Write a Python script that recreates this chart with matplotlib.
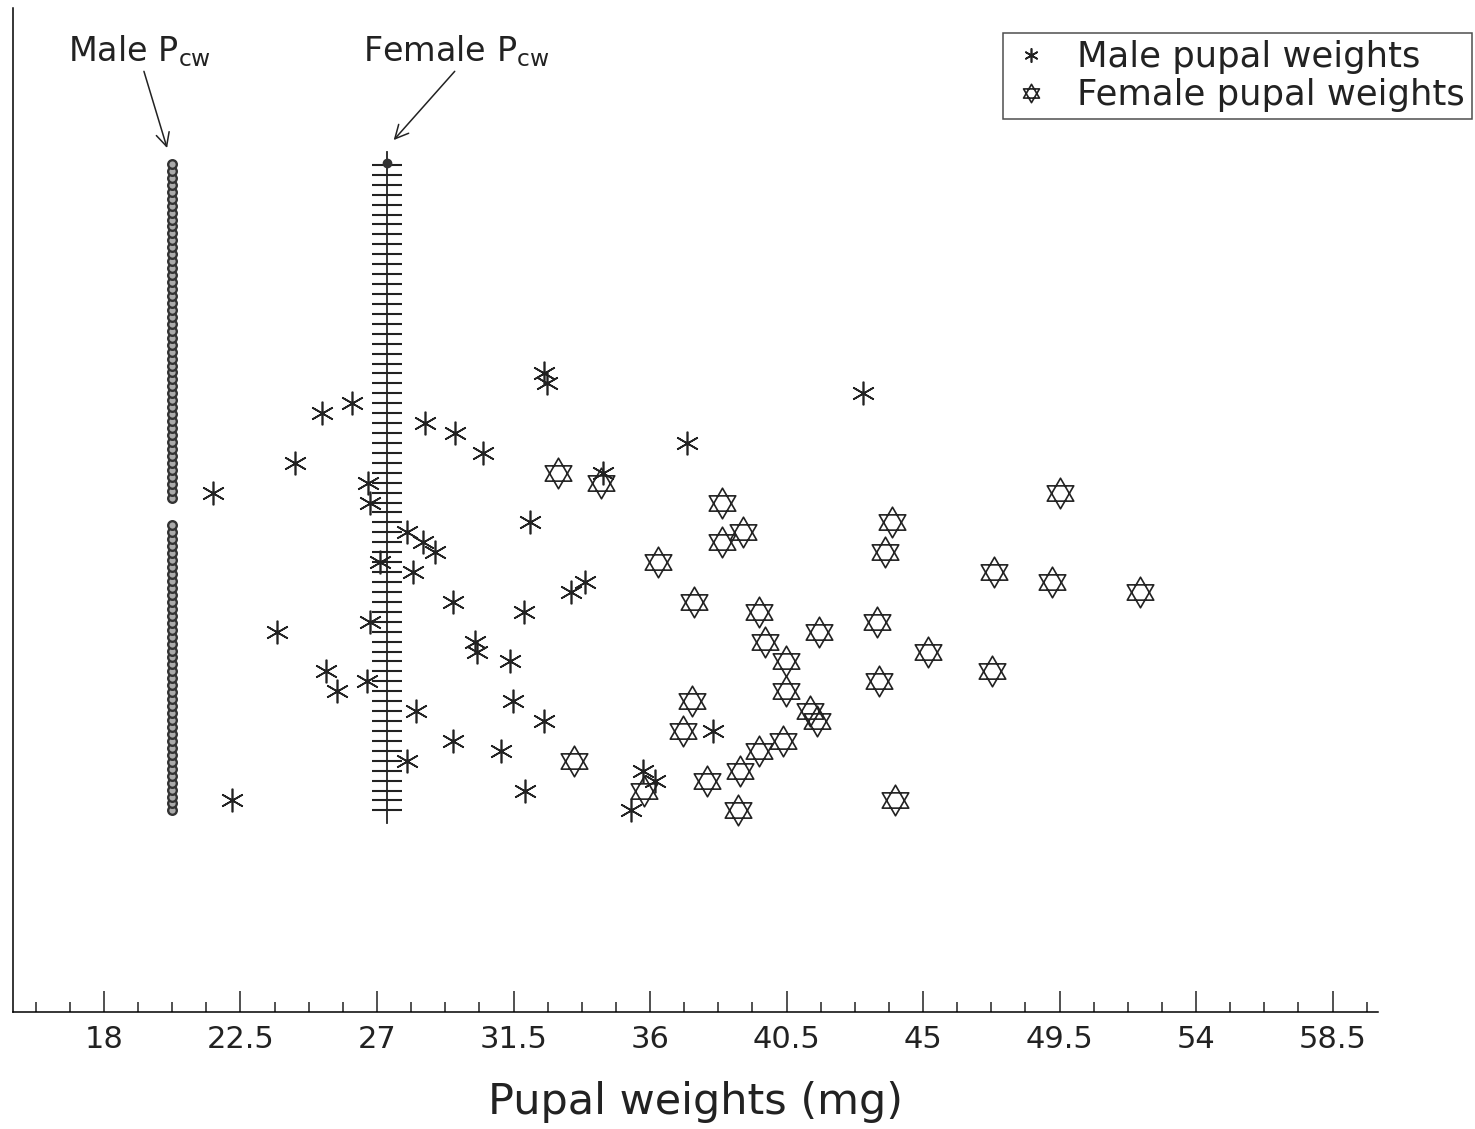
import numpy as np
import matplotlib
matplotlib.use("Agg")
import matplotlib.pyplot as plt
from matplotlib.path import Path
from matplotlib.ticker import MultipleLocator

# pupal weights (mg) by rank row, NaN where a row has no value
male_weights = [35.36, 22.22, 31.89, 36.15, 35.76, 28.00, 31.10, 29.52, 38.07, 32.49,
                28.30, 31.47, 25.69, 26.68, 25.33, 31.40, 30.31, 30.24, 23.71, 26.78,
                31.86, 29.52, 33.38, 33.87, 28.20, 27.11, 28.92, 28.50, 28.00, 32.06,
                np.nan, 26.78, 21.60, 26.71, 34.44, 24.30, 30.48, 37.21, 29.58, 28.59,
                25.19, 26.18, 43.02, 32.59, 32.49]
female_weights = [38.89, 44.07, 35.79, 37.87, 38.96, 33.48, 39.58, 40.38, 37.08, 41.50,
                  41.27, 37.37, 40.48, 43.54, 47.27, 40.48, 45.16, 39.78, 41.56, 43.48,
                  39.58, 37.44, 52.16, 49.25, 47.34, 36.25, 43.74, 38.36, 39.06, 43.97,
                  np.nan, 38.36, 49.52, 34.37, 32.98]

male_pcw = 20.25
female_pcw = 27.33

tick_values = [18, 22.5, 27, 31.5, 36, 40.5, 45, 49.5, 54, 58.5]
tick_labels = ["18", "22.5", "27", "31.5", "36", "40.5", "45", "49.5", "54", "58.5"]

male_rows = np.arange(len(male_weights))
female_rows = np.arange(len(female_weights))

# rows covered by the Pcw columns
male_col_rows = np.arange(0, 65.2, 0.7)
male_col_rows = male_col_rows[(male_col_rows < 29.3) | (male_col_rows > 30.8)]
female_col_rows = np.arange(0, 66)

ink = "#222222"

# star of david marker: two triangles
ang_up = np.deg2rad([90, 210, 330, 90])
ang_dn = np.deg2rad([270, 30, 150, 270])
verts = list(zip(np.cos(ang_up), np.sin(ang_up))) + list(zip(np.cos(ang_dn), np.sin(ang_dn)))
codes = [Path.MOVETO, Path.LINETO, Path.LINETO, Path.CLOSEPOLY] * 2
star_path = Path(verts, codes)

fig = plt.figure(figsize=(14.75, 11.29), dpi=100)
ax = fig.add_axes([13/1475, 1 - 1012/1129, (1378 - 13)/1475, (1012 - 8)/1129])

# Pcw columns
ax.plot([female_pcw, female_pcw], [-1.3, 66.3], color=ink, lw=1.3, zorder=2)
ax.plot(np.full(len(female_col_rows), female_pcw), female_col_rows, ls="none",
        marker="_", ms=21, mew=1.5, color=ink, zorder=2)
ax.plot([female_pcw], [65.2], ls="none", marker="o", ms=6, color="#333333", zorder=3)
ax.plot(np.full(len(male_col_rows), male_pcw), male_col_rows, ls="none",
        marker="o", ms=6.2, mfc="#aaaaaa", mec="#333333", mew=1.7, zorder=2)

# pupal weights
ax.plot(male_weights, male_rows, ls="none", marker=(6, 2, 0), ms=17, mew=1.2,
        color=ink, label="Male pupal weights", zorder=4)
ax.plot(female_weights, female_rows, ls="none", marker=star_path, ms=22, mew=1.2,
        mfc="none", mec=ink, label="Female pupal weights", zorder=4)

ax.set_xlim(15, 60)
ax.set_ylim(-20.3, 80.8)

ax.spines["top"].set_visible(False)
ax.spines["right"].set_visible(False)
ax.spines["left"].set_linewidth(1.1)
ax.spines["bottom"].set_linewidth(1.1)
ax.set_yticks([])
ax.set_xticks(tick_values)
ax.set_xticklabels(tick_labels)
ax.xaxis.set_minor_locator(MultipleLocator(1.125))
ax.tick_params(axis="x", which="major", direction="in", length=15, width=1.1,
               labelsize=22, pad=9, colors=ink)
ax.tick_params(axis="x", which="minor", direction="in", length=7, width=1.1, colors=ink)

ax.set_xlabel("Pupal weights (mg)", fontsize=31, color=ink, labelpad=20)

# annotations for the Pcw columns
ax.annotate("Male P$_{\\mathregular{cw}}$", xy=(20.08, 66.7), xytext=(16.8, 76.5),
            fontsize=24, color=ink, va="center", ha="left",
            arrowprops=dict(arrowstyle="->", color=ink, lw=1.1, shrinkA=0, shrinkB=0,
                            relpos=(0.52, 0.1)))
ax.annotate("Female P$_{\\mathregular{cw}}$", xy=(27.55, 67.5), xytext=(26.55, 76.5),
            fontsize=24, color=ink, va="center", ha="left",
            arrowprops=dict(arrowstyle="->", color=ink, lw=1.1, shrinkA=0, shrinkB=0,
                            relpos=(0.52, 0.1)))

leg = fig.legend(loc="upper right", bbox_to_anchor=(1472/1475, 1 - 33/1129),
                 fontsize=25.5, frameon=True, fancybox=False, markerscale=0.6,
                 handlelength=1.2, handletextpad=0.7, borderpad=0.2, labelspacing=0.12,
                 borderaxespad=0)
leg.get_frame().set_edgecolor(ink)
leg.get_frame().set_linewidth(1.1)
for t in leg.get_texts():
    t.set_color(ink)

fig.savefig("out.png", dpi=100)
